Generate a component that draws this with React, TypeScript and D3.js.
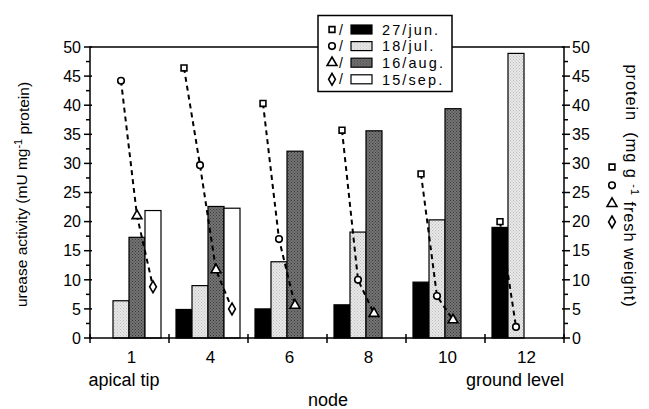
import React, { useEffect, useRef } from 'react';
import * as d3 from 'd3';

const nodes = ['1', '4', '6', '8', '10', '12'];
const dates = ['27/jun.', '18/jul.', '16/aug.', '15/sep.'];

// urease activity (bars), null = no bar
const ureaseJun = [null, 4.9, 5.0, 5.7, 9.6, 19.0];
const ureaseJul = [6.4, 9.0, 13.1, 18.2, 20.3, 48.9];
const ureaseAug = [17.3, 22.6, 32.1, 35.6, 39.4, null];
const ureaseSep = [21.9, 22.3, null, null, null, null];

// protein (dashed line markers)
const proteinJun = [null, 46.4, 40.3, 35.7, 28.2, 20.0];
const proteinJul = [44.2, 29.7, 17.0, 10.0, 7.2, 1.9];
const proteinAug = [21.0, 11.7, 5.6, 4.2, 3.1, null];
const proteinSep = [8.8, 5.0, null, null, null, null];

const yTicks = [0, 5, 10, 15, 20, 25, 30, 35, 40, 45, 50];

const App = () => {
  const svgRef = useRef(null);

  useEffect(() => {
    const svg = d3.select(svgRef.current);
    svg.selectAll('*').remove();

    const W = 649, H = 409;
    const margin = { top: 47, right: 85, bottom: 71, left: 90 };
    const width = W - margin.left - margin.right;
    const height = H - margin.top - margin.bottom;
    const font = '"Liberation Sans", Arial, sans-serif';

    svg.attr('width', W).attr('height', H);

    const g = svg.append('g')
      .attr('transform', `translate(${margin.left},${margin.top})`);

    const x0 = d3.scaleBand().domain(nodes).range([0, width]);
    const x1 = d3.scaleBand().domain(dates).range([7, 71]);
    const yLeft = d3.scaleLinear().domain([0, 50]).range([height, 0]);
    const yRight = d3.scaleLinear().domain([0, 50]).range([height, 0]);

    const ureaseSeries = [ureaseJun, ureaseJul, ureaseAug, ureaseSep];
    const proteinSeries = [proteinJun, proteinJul, proteinAug, proteinSep];

    // stipple textures
    const defs = svg.append('defs');
    const mkPattern = (id, bg, dot) => {
      const p = defs.append('pattern')
        .attr('id', id).attr('width', 3).attr('height', 3)
        .attr('patternUnits', 'userSpaceOnUse');
      p.append('rect').attr('width', 3).attr('height', 3).attr('fill', bg);
      p.append('rect').attr('x', 0).attr('y', 0).attr('width', 1).attr('height', 1).attr('fill', dot);
      p.append('rect').attr('x', 1.5).attr('y', 1.5).attr('width', 1).attr('height', 1).attr('fill', dot);
    };
    mkPattern('light', '#e8e8e8', '#bdbdbd');
    mkPattern('dark', '#747474', '#3a3a3a');
    const barFill = ['#000', 'url(#light)', 'url(#dark)', '#fff'];

    // bars
    nodes.forEach((n, i) => {
      ureaseSeries.forEach((s, j) => {
        const v = s[i];
        if (v == null) return;
        g.append('rect')
          .attr('x', x0(n) + x1(dates[j]))
          .attr('y', yLeft(v))
          .attr('width', x1.bandwidth())
          .attr('height', height - yLeft(v))
          .attr('fill', barFill[j])
          .attr('stroke', '#000')
          .attr('stroke-width', 1.2);
      });
    });

    // frame
    g.append('rect')
      .attr('width', width).attr('height', height)
      .attr('fill', 'none').attr('stroke', '#000').attr('stroke-width', 1.5);

    // y axis ticks, both sides
    const minor = d3.range(0, 50.01, 2.5);
    minor.forEach(t => {
      const major = t % 5 === 0;
      g.append('line')
        .attr('x1', major ? -6 : -4).attr('x2', major ? 2 : 0)
        .attr('y1', yLeft(t)).attr('y2', yLeft(t))
        .attr('stroke', '#000').attr('stroke-width', 1.5);
      g.append('line')
        .attr('x1', width + (major ? 6 : 4)).attr('x2', width - (major ? 2 : 0))
        .attr('y1', yRight(t)).attr('y2', yRight(t))
        .attr('stroke', '#000').attr('stroke-width', 1.5);
    });
    yTicks.forEach(t => {
      g.append('text')
        .attr('x', -9).attr('y', yLeft(t)).attr('dy', '0.36em')
        .attr('text-anchor', 'end')
        .style('font', `16px ${font}`)
        .text(t);
      g.append('text')
        .attr('x', width + 8).attr('y', yRight(t)).attr('dy', '0.36em')
        .attr('text-anchor', 'start')
        .style('font', `16px ${font}`)
        .text(t);
    });

    // x axis ticks at group boundaries
    d3.range(0, nodes.length + 1).forEach(k => {
      const xx = k * x0.bandwidth();
      g.append('line')
        .attr('x1', xx).attr('x2', xx)
        .attr('y1', height - 4).attr('y2', height + 5)
        .attr('stroke', '#000').attr('stroke-width', 1.5);
    });
    nodes.forEach(n => {
      g.append('text')
        .attr('x', x0(n) + x0.bandwidth() / 2 + 2)
        .attr('y', height + 25)
        .attr('text-anchor', 'middle')
        .style('font', `17px ${font}`)
        .text(n);
    });
    g.append('text')
      .attr('x', 124 - margin.left).attr('y', height + 48)
      .attr('text-anchor', 'middle')
      .style('font', `18px ${font}`)
      .text('apical tip');
    g.append('text')
      .attr('x', 515 - margin.left).attr('y', height + 48)
      .attr('text-anchor', 'middle')
      .style('font', `18px ${font}`)
      .text('ground level');
    g.append('text')
      .attr('x', width / 2 + 1).attr('y', height + 68)
      .attr('text-anchor', 'middle')
      .style('font', `18px ${font}`)
      .text('node');

    // left title
    const lt = g.append('text')
      .attr('transform', `translate(${22 - margin.left},${height / 2 + 2}) rotate(-90)`)
      .attr('text-anchor', 'middle')
      .attr('dy', '0.35em')
      .style('font', `15.5px ${font}`);
    lt.append('tspan').text('urease activity (mU mg');
    lt.append('tspan').attr('dy', '-0.45em').style('font-size', '11px').text('-1');
    lt.append('tspan').attr('dy', '0.45em').text(' protein)');

    // right title
    const rt = g.append('text')
      .attr('transform', `translate(${632 - margin.left},${186 - margin.top}) rotate(90)`)
      .attr('text-anchor', 'middle')
      .attr('dy', '0.35em')
      .style('font', `16.5px ${font}`)
      .style('letter-spacing', '0.9px')
      .style('white-space', 'pre');
    rt.append('tspan').text('protein  (mg g ');
    rt.append('tspan').attr('dy', '-0.45em').style('font-size', '11px').text('-1');
    rt.append('tspan').attr('dy', '0.45em').text(' fresh weight)');

    // marker shapes
    const symTypes = [d3.symbolSquare, d3.symbolCircle, d3.symbolTriangle, d3.symbolDiamond];
    const symSizes = [34, 34, 42, 40];
    const drawSym = (sel, j, cx, cy) => {
      sel.append('path')
        .attr('d', d3.symbol().type(symTypes[j]).size(symSizes[j])())
        .attr('transform', `translate(${cx},${cy})`)
        .attr('fill', '#fff')
        .attr('stroke', '#000')
        .attr('stroke-width', 1.6);
    };

    // dashed protein lines per node
    const line = d3.line().x(d => d.x).y(d => d.y);
    nodes.forEach((n, i) => {
      const pts = proteinSeries
        .map((s, j) => (s[i] == null ? null : {
          j,
          x: x0(n) + x1(dates[j]) + x1.bandwidth() / 2,
          y: yRight(s[i]),
        }))
        .filter(d => d);
      g.append('path')
        .datum(pts)
        .attr('d', line)
        .attr('fill', 'none')
        .attr('stroke', '#000')
        .attr('stroke-width', 2)
        .attr('stroke-dasharray', '5,4');
      pts.forEach(p => drawSym(g, p.j, p.x, p.y));
    });

    // symbol key next to right title
    [0, 1, 2, 3].forEach(j => {
      drawSym(svg, j, 612, 167 + j * 18.3);
    });

    // legend
    const lg = svg.append('g').attr('transform', 'translate(318,15.5)');
    lg.append('rect')
      .attr('width', 134).attr('height', 76)
      .attr('fill', '#fff').attr('stroke', '#000').attr('stroke-width', 1.5);
    dates.forEach((d, j) => {
      const cy = 14 + j * 16.6;
      drawSym(lg, j, 14, cy);
      lg.append('text')
        .attr('x', 21).attr('y', cy).attr('dy', '0.36em')
        .style('font', `14px ${font}`)
        .text('/');
      lg.append('rect')
        .attr('x', 33).attr('y', cy - 4.5)
        .attr('width', 21).attr('height', 9)
        .attr('fill', barFill[j])
        .attr('stroke', '#000').attr('stroke-width', 1.2);
      lg.append('text')
        .attr('x', 64).attr('y', cy).attr('dy', '0.36em')
        .style('font', `14.5px ${font}`)
        .style('letter-spacing', '2.1px')
        .text(d);
    });
  }, []);

  return (
    <svg ref={svgRef} style={{ position: 'absolute', left: 0, top: 0, background: '#fff' }}></svg>
  );
};

export default App;
